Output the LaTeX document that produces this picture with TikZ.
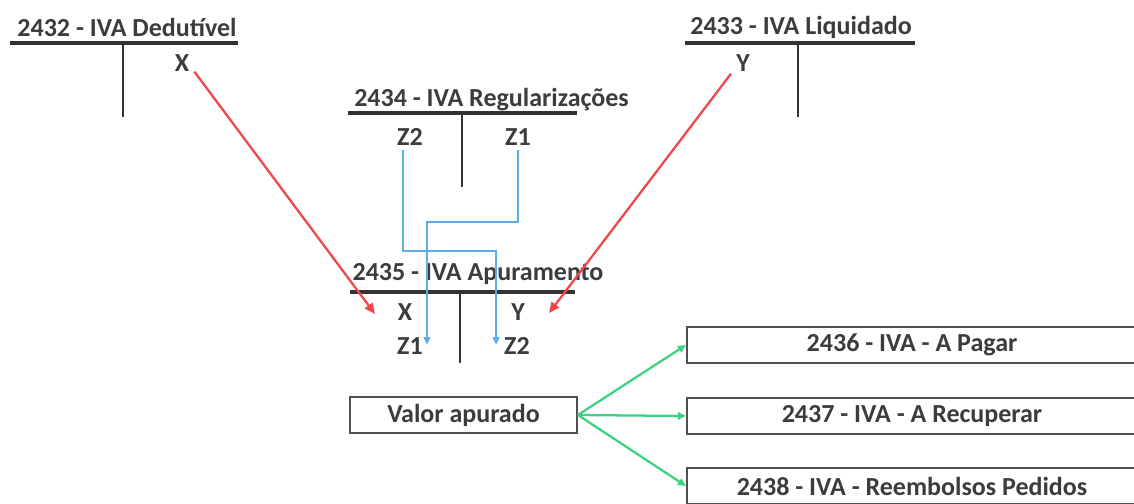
\documentclass[tikz,border=0pt]{standalone}
\usepackage{fontspec}
\setmainfont{Carlito}
\usetikzlibrary{arrows.meta}
\definecolor{txt}{HTML}{3C3C3C}
\definecolor{tline}{HTML}{333333}
\definecolor{redarr}{HTML}{F0464B}
\definecolor{bluearr}{HTML}{5AAFE6}
\definecolor{greenarr}{HTML}{3CD282}
\definecolor{boxline}{HTML}{505050}
\begin{document}
\begin{tikzpicture}[x=0.75pt,y=-0.75pt,
  lbl/.style={font=\fontsize{19.5}{22}\selectfont\bfseries, text=txt, inner sep=0pt},
  thoriz/.style={draw=tline, line width=2.6pt},
  tvert/.style={draw=tline, line width=1.8pt},
  redarrow/.style={draw=redarr, line width=1.7pt, -{Triangle[length=8pt,width=7pt]}},
  bluearrow/.style={draw=bluearr, line width=1.3pt, -{Triangle[length=6pt,width=5pt]}},
  greenarrow/.style={draw=greenarr, line width=1.7pt, -{Triangle[length=6pt,width=5.5pt]}},
  acct/.style={draw=boxline, line width=1.6pt, fill=white, font=\fontsize{19.5}{22}\selectfont\bfseries, text=txt, inner sep=0pt},
]
\useasboundingbox (0,0) rectangle (1134,503);

% 2432 - IVA Dedutivel
\node[lbl] (t2432) at (127,27) {2432 - IVA Dedutível};
\draw[thoriz] (10,43) -- (238,43);
\draw[tvert] (123,43) -- (123,117);
\node[lbl] (x1) at (182,63) {X};

% 2433 - IVA Liquidado
\node[lbl] (t2433) at (801,27) {2433 - IVA Liquidado};
\draw[thoriz] (685,43) -- (915,43);
\draw[tvert] (798,43) -- (798,117);
\node[lbl] (y1) at (743,63) {Y};

% 2434 - IVA Regularizacoes
\node[lbl, anchor=west] (t2434) at (354,100) {2434 - IVA Regularizações};
\draw[thoriz] (348,113) -- (577,113);
\draw[tvert] (462,113) -- (462,187);
\node[lbl] (z2a) at (410,137) {Z2};
\node[lbl] (z1a) at (518,137) {Z1};

% 2435 - IVA Apuramento
\node[lbl] (t2435) at (478,274) {2435 - IVA Apuramento};
\draw[thoriz] (350,292) -- (575,292);
\draw[tvert] (460,292) -- (460,363);
\node[lbl] (x2) at (405,312) {X};
\node[lbl] (y2) at (518,312) {Y};
\node[lbl] (z1b) at (410,346) {Z1};
\node[lbl] (z2b) at (517,346) {Z2};

% red arrows
\coordinate (rxend) at (375,314);
\coordinate (ryend) at (549,313);
\draw[redarrow] (x1.south east) ++(5,0) -- (rxend);
\draw[redarrow] (y1.south west) ++(-5,2) -- (ryend);

% blue arrows
\coordinate (z1s) at (518,150);
\coordinate (z1e) at (427,345);
\coordinate (z2s) at (403,150);
\coordinate (z2e) at (496,345);
\draw[bluearrow] (z1s) -- (518,222) -- (427,222) -- (z1e);
\draw[bluearrow] (z2s) -- (403,251) -- (496,251) -- (z2e);

% result boxes
\node[acct, minimum width=170pt, minimum height=27pt] (valor) at (463.5,415) {Valor apurado};
\node[acct, minimum width=337.5pt, minimum height=26.5pt] (b1) at (912,345) {2436 - IVA - A Pagar};
\node[acct, minimum width=337.5pt, minimum height=27pt] (b2) at (912,416) {2437 - IVA - A Recuperar};
\node[acct, minimum width=337.5pt, minimum height=27pt] (b3) at (912,486) {2438 - IVA - Reembolsos Pedidos};

% green arrows
\draw[greenarrow] (valor.east) -- (b1.west);
\draw[greenarrow] (valor.east) -- (b2.west);
\draw[greenarrow] (valor.east) -- (b3.west);
\end{tikzpicture}
\end{document}
